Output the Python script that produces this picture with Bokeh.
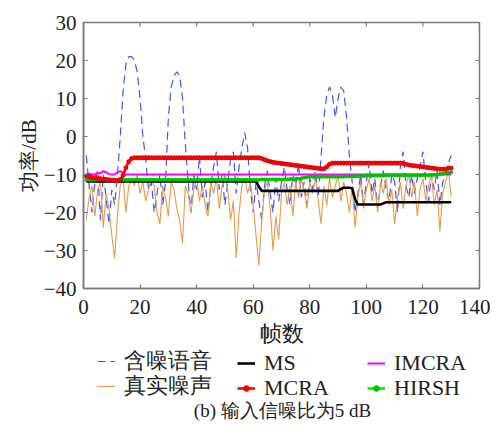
from bokeh.plotting import figure
from bokeh.layouts import column
from bokeh.models import Legend, LegendItem, Label, Range1d, FixedTicker
from bokeh.embed import file_html
from bokeh.resources import INLINE

frames = list(range(1, 131))

noisy_speech = [-5, -13, -20, -12, -9, -22, -10, -16, -23, -14,
                -18, -10, 0, 12, 19, 21, 21, 20, 17, 10,
                0, -6, -14, -12, -20, -15, -10, -18, -12, 5,
                13, 16, 17, 16, 10, -2, -12, -20, -10, -14,
                -5, -16, -12, -20, -13, -8, -4, -14, -10, -18,
                -12, -6, -4, -15, -8, -3, 1, -3, -14, -20,
                -12, -17, -22, -13, -9, -15, -20, -11, -17, -12,
                -8, -14, -18, -10, -13, -7, -16, -12, -18, -11,
                -14, -9, -16, -5, 5, 11, 13, 11, 5, 10,
                13, 12, 5, -5, -12, -20, -15, -10, -18, -12,
                -7, -15, -11, -19, -13, -9, -14, -17, -10, -12,
                -20, -8, -4, -13, -16, -10, -15, -11, -8, -4,
                -12, -17, -10, -14, -9, -18, -12, -10, -7, -5]

true_noise = [-22, -16, -13, -21, -14, -12, -24, -15, -19, -26,
              -32, -21, -13, -11, -20, -13, -11, -13, -10, -15,
              -12, -17, -14, -11, -13, -20, -23, -13, -16, -21,
              -12, -14, -19, -22, -28, -13, -15, -20, -14, -11,
              -17, -13, -18, -21, -12, -15, -11, -19, -13, -10,
              -14, -22, -17, -32, -20, -13, -11, -15, -12, -18,
              -26, -34, -22, -14, -12, -19, -30, -21, -27, -15,
              -12, -18, -13, -21, -12, -16, -11, -14, -19, -12,
              -15, -11, -17, -23, -13, -18, -11, -16, -13, -10,
              -17, -12, -15, -20, -13, -24, -16, -12, -19, -14,
              -11, -17, -13, -20, -12, -15, -11, -18, -14, -23,
              -16, -12, -19, -13, -10, -16, -12, -21, -14, -11,
              -17, -13, -10, -18, -14, -25, -15, -12, -9, -16]

ms = [-11.8, -11.8, -11.8, -11.8, -11.8, -11.8, -11.8, -11.8, -11.8, -11.8,
      -11.8, -11.8, -11.8, -11.8, -11.8, -11.8, -11.8, -11.8, -11.8, -11.8,
      -11.8, -11.8, -11.8, -11.8, -11.8, -11.8, -11.8, -11.8, -11.8, -11.8,
      -11.8, -11.8, -11.8, -11.8, -11.8, -11.8, -11.8, -11.8, -11.8, -11.8,
      -11.8, -11.8, -11.8, -11.8, -11.8, -11.8, -11.8, -11.8, -11.8, -11.8,
      -11.8, -11.8, -11.8, -11.8, -11.8, -11.8, -11.8, -11.8, -11.8, -11.8,
      -11.8, -13.2, -14.3, -14.3, -14.3, -14.3, -14.3, -14.3, -14.3, -14.3,
      -14.3, -14.3, -14.3, -14.3, -14.3, -14.3, -14.3, -14.3, -14.3, -14.3,
      -14.3, -14.3, -14.3, -14.3, -14.3, -14.3, -14.3, -14.3, -14.3, -14.3,
      -13.8, -13.5, -13.5, -13.5, -13.6, -16.5, -17.9, -17.9, -17.9, -17.9,
      -17.9, -17.9, -17.9, -17.9, -17.9, -17.6, -17.3, -17.3, -17.3, -17.3,
      -17.3, -17.3, -17.3, -17.3, -17.3, -17.3, -17.3, -17.3, -17.3, -17.3,
      -17.3, -17.3, -17.3, -17.3, -17.3, -17.3, -17.3, -17.3, -17.3, -17.3]

mcra = [-10.4, -10.6, -10.8, -10.9, -11.0, -11.1, -11.2, -11.3, -11.4, -11.5,
        -11.6, -11.6, -11.3, -10.2, -8.2, -6.6, -5.8, -5.6, -5.6, -5.6,
        -5.6, -5.6, -5.6, -5.6, -5.6, -5.6, -5.6, -5.6, -5.6, -5.6,
        -5.6, -5.6, -5.6, -5.6, -5.6, -5.6, -5.6, -5.6, -5.6, -5.6,
        -5.6, -5.6, -5.6, -5.6, -5.6, -5.6, -5.6, -5.6, -5.6, -5.6,
        -5.6, -5.6, -5.6, -5.6, -5.6, -5.6, -5.6, -5.6, -5.6, -5.6,
        -5.6, -5.6, -5.8, -6.1, -6.4, -6.6, -6.8, -6.9, -7.0, -7.1,
        -7.2, -7.3, -7.4, -7.5, -7.6, -7.7, -7.8, -7.9, -8.0, -8.1,
        -8.2, -8.3, -8.4, -8.5, -8.5, -8.0, -7.3, -7.0, -7.0, -7.0,
        -7.0, -7.0, -7.0, -7.0, -7.0, -7.0, -7.0, -7.0, -7.0, -7.0,
        -7.0, -7.0, -7.0, -7.0, -7.0, -7.0, -7.0, -7.0, -7.0, -7.0,
        -7.0, -7.0, -7.1, -7.3, -7.5, -7.6, -7.7, -7.8, -7.9, -8.0,
        -8.1, -8.2, -8.3, -8.4, -8.5, -8.6, -8.6, -8.6, -8.3, -8.3]

imcra = [-9.8, -9.8, -10.0, -10.0, -9.6, -9.7, -9.1, -9.4, -9.9, -10.0,
         -10.0, -9.4, -9.1, -9.5, -10.0, -10.0, -10.0, -10.0, -10.0, -10.0,
         -10.0, -10.0, -10.0, -10.0, -10.0, -10.0, -10.0, -10.0, -10.0, -10.0,
         -10.0, -10.0, -10.0, -10.0, -10.0, -10.0, -10.0, -10.0, -10.0, -10.0,
         -10.0, -10.0, -10.0, -10.0, -10.0, -10.0, -10.0, -10.0, -10.0, -10.0,
         -10.0, -10.0, -10.0, -10.0, -10.0, -10.0, -10.0, -10.0, -10.0, -10.0,
         -10.0, -10.0, -10.0, -10.0, -10.0, -10.0, -10.0, -10.0, -10.0, -10.0,
         -10.0, -10.0, -10.0, -10.0, -10.0, -10.0, -10.0, -10.0, -10.0, -10.0,
         -10.0, -10.0, -10.0, -10.0, -10.0, -10.0, -10.0, -10.0, -10.0, -10.0,
         -10.0, -10.0, -10.0, -10.0, -10.0, -10.0, -10.0, -10.0, -10.0, -10.0,
         -10.0, -10.0, -10.0, -10.0, -10.0, -10.0, -10.0, -10.0, -10.0, -10.0,
         -10.0, -10.0, -10.0, -10.0, -10.0, -10.0, -10.0, -10.0, -10.0, -10.0,
         -10.0, -10.0, -10.0, -10.0, -10.0, -10.0, -10.0, -10.0, -10.0, -10.0]

hirsh = [-11.4, -11.4, -11.4, -11.4, -11.4, -11.4, -11.4, -11.4, -11.4, -11.4,
         -11.4, -11.4, -11.4, -11.4, -11.4, -11.4, -11.4, -11.4, -11.4, -11.4,
         -11.4, -11.4, -11.4, -11.4, -11.4, -11.4, -11.4, -11.4, -11.4, -11.4,
         -11.4, -11.4, -11.4, -11.4, -11.4, -11.4, -11.4, -11.4, -11.4, -11.4,
         -11.4, -11.4, -11.4, -11.4, -11.4, -11.4, -11.4, -11.4, -11.4, -11.4,
         -11.4, -11.4, -11.4, -11.4, -11.4, -11.4, -11.4, -11.4, -11.4, -11.4,
         -11.4, -11.4, -11.3, -11.3, -11.3, -11.3, -11.3, -11.3, -11.3, -11.3,
         -11.3, -11.3, -11.2, -11.2, -11.2, -11.1, -11.0, -10.8, -10.7, -10.6,
         -10.6, -10.6, -10.6, -10.6, -10.6, -10.6, -10.6, -10.6, -10.6, -10.6,
         -10.6, -10.6, -10.5, -10.5, -10.5, -10.5, -10.4, -10.4, -10.4, -10.3,
         -10.3, -10.3, -10.3, -10.3, -10.3, -10.3, -10.2, -10.2, -10.2, -10.2,
         -10.2, -10.2, -10.2, -10.2, -10.2, -10.2, -10.2, -10.2, -10.2, -10.2,
         -10.2, -10.2, -10.1, -10.1, -10.0, -9.9, -9.8, -9.6, -9.5, -9.4]

x_ticks = [0, 20, 40, 60, 80, 100, 120, 140]
y_ticks = [-40, -30, -20, -10, 0, 10, 20, 30]
x_min, x_max, y_min, y_max = 0, 140, -40, 30

SERIF = "Liberation Serif, serif"
AXIS_GRAY = "#7a7a7a"
TXT = "#222222"

# ---------------- main chart ----------------
p = figure(width=490, height=349,
           x_range=Range1d(x_min, x_max), y_range=Range1d(y_min, y_max),
           output_backend="svg", toolbar_location=None,
           min_border_left=83, min_border_right=11, min_border_top=22,
           min_border_bottom=61)
p.grid.visible = False
p.outline_line_color = AXIS_GRAY
p.outline_line_width = 1.5
p.background_fill_color = "white"

for ax in (p.xaxis[0], p.yaxis[0]):
    ax.major_tick_in = 4
    ax.major_tick_out = 0
    ax.minor_tick_in = 0
    ax.minor_tick_out = 0
    ax.axis_line_color = AXIS_GRAY
    ax.axis_line_width = 1.5
    ax.major_tick_line_color = AXIS_GRAY
    ax.major_tick_line_width = 1.2
    ax.major_label_text_font = SERIF
    ax.major_label_text_font_size = "21px"
    ax.major_label_text_color = TXT
    ax.axis_label_text_font = SERIF
    ax.axis_label_text_font_style = "normal"
    ax.axis_label_text_color = TXT

p.xaxis.ticker = FixedTicker(ticks=x_ticks)
p.yaxis.ticker = FixedTicker(ticks=y_ticks)
p.xaxis.major_label_standoff = 11
p.yaxis.major_label_standoff = 7
p.xaxis.axis_label = "帧数"
p.yaxis.axis_label = "功率/dB"
p.xaxis.axis_label_text_font_size = "22px"
p.yaxis.axis_label_text_font_size = "21px"
p.xaxis.axis_label_standoff = 4
p.yaxis.axis_label_standoff = 0

# mirrored inward ticks on the top and right edges (about 4 px long)
tick_dy = (y_max - y_min) * 4 / 266
tick_dx = (x_max - x_min) * 4 / 396
p.segment(x0=x_ticks, y0=[y_max] * len(x_ticks), x1=x_ticks, y1=[y_max - tick_dy] * len(x_ticks),
          line_color=AXIS_GRAY, line_width=1.2)
p.segment(x0=[x_max] * len(y_ticks), y0=y_ticks, x1=[x_max - tick_dx] * len(y_ticks), y1=y_ticks,
          line_color=AXIS_GRAY, line_width=1.2)

styles = {
    "noisy": dict(line_color="#3f55ff", line_width=1.2, line_dash="8 5"),
    "true": dict(line_color="#e89a4a", line_width=1.1),
    "ms": dict(line_color="black", line_width=2.6),
    "imcra": dict(line_color="#ff00ff", line_width=2.0),
    "hirsh": dict(line_color="#00f000", line_width=2.6),
    "mcra": dict(line_color="#ff0000", line_width=2.6),
}
hirsh_marker = dict(size=3, marker="circle", fill_color="#00c000", line_color="#00c000")
mcra_marker = dict(size=4, marker="circle", fill_color="#ff0000", line_color="#e00000")

def draw_all(fig):
    r = {}
    r["noisy"] = [fig.line(frames, noisy_speech, **styles["noisy"])]
    r["true"] = [fig.line(frames, true_noise, **styles["true"])]
    r["ms"] = [fig.line(frames, ms, **styles["ms"])]
    r["imcra"] = [fig.line(frames, imcra, **styles["imcra"])]
    r["hirsh"] = [fig.line(frames, hirsh, **styles["hirsh"]),
                  fig.scatter(frames, hirsh, **hirsh_marker)]
    r["mcra"] = [fig.line(frames, mcra, **styles["mcra"]),
                 fig.scatter(frames, mcra, **mcra_marker)]
    return r

draw_all(p)

# ---------------- legend + caption strip ----------------
# a strip figure whose view range lies outside the data, so only its legend shows
q = figure(width=490, height=77, x_range=Range1d(-3, -2), y_range=Range1d(0, 1),
           output_backend="svg", toolbar_location=None,
           x_axis_location=None, y_axis_location=None,
           min_border=0, min_border_left=0, min_border_right=0,
           min_border_top=0, min_border_bottom=0)
q.grid.visible = False
q.outline_line_color = None
rq = draw_all(q)

# positions are relative to the strip's frame, which lines up with the chart frame
legend_entries = [
    ("含噪语音", "noisy", 14, 50), ("真实噪声", "true", 14, 25),
    ("MS", "ms", 154, 50), ("MCRA", "mcra", 154, 25),
    ("IMCRA", "imcra", 284, 50), ("HIRSH", "hirsh", 284, 25),
]
for label, key, vx, vy in legend_entries:
    lg = Legend(items=[LegendItem(label=label, renderers=rq[key])],
                location=(vx, vy), orientation="vertical",
                label_text_font=SERIF, label_text_font_size="22px",
                label_text_color=TXT, label_text_line_height=1.0,
                glyph_width=18, glyph_height=14, label_standoff=9,
                label_height=20, spacing=0, padding=0, margin=0,
                border_line_alpha=0, background_fill_alpha=0)
    q.add_layout(lg, "center")

caption = Label(x=199, y=16, x_units="screen", y_units="screen",
                text="(b) 输入信噪比为5 dB", text_align="center", text_baseline="middle",
                text_font=SERIF, text_font_size="19px", text_color=TXT)
q.add_layout(caption)

layout = column(p, q, spacing=0)
open("out.html", "w").write(file_html(layout, INLINE))
